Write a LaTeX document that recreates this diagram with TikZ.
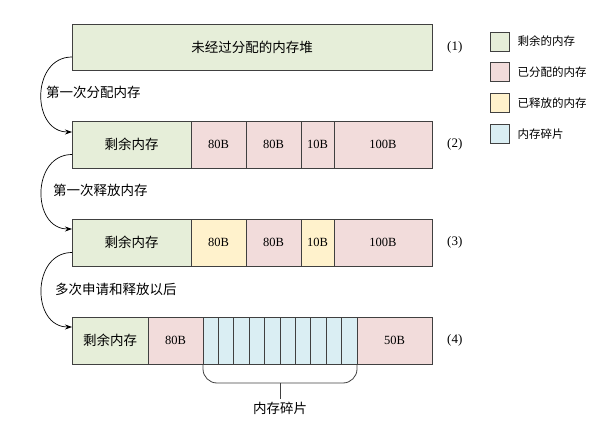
\documentclass[tikz,border=0pt]{standalone}
\usepackage{fontspec}
\setmainfont{Liberation Serif}
\newfontfamily\cjk{Noto Sans CJK SC}
\usetikzlibrary{positioning, arrows.meta, calc}
\definecolor{freegreen}{HTML}{E6EED9}
\definecolor{usedpink}{HTML}{F2DCDB}
\definecolor{relyellow}{HTML}{FFF2CC}
\definecolor{fragblue}{HTML}{DAEEF3}
\definecolor{edgegray}{HTML}{404040}
\tikzset{
    cell/.style={draw=edgegray, line width=0.8pt, rectangle, minimum height=47pt, inner sep=0pt, outer sep=0pt, font=\fontsize{12.5}{14}\selectfont},
    freecell/.style={cell, fill=freegreen, font=\cjk\fontsize{13.5}{15}\selectfont},
    usedcell/.style={cell, fill=usedpink},
    relcell/.style={cell, fill=relyellow},
    fragcell/.style={cell, fill=fragblue, minimum width=15.4pt},
    rowtag/.style={font=\fontsize{13}{15}\selectfont, inner sep=0pt},
    steplabel/.style={font=\cjk\fontsize{13.5}{15}\selectfont, anchor=west, inner sep=0pt},
    legbox/.style={draw=edgegray, line width=0.8pt, minimum size=19pt, inner sep=0pt},
    legtext/.style={font=\cjk\fontsize{11.5}{13}\selectfont, inner sep=0pt},
    steparrow/.style={-{Stealth[length=7pt, width=5pt]}, line width=0.7pt, looseness=1.4},
}
\begin{document}
\begin{tikzpicture}
    \useasboundingbox (0,0) rectangle (605pt,-430pt);
    % (1) heap before any allocation
    \node[freecell, minimum width=360pt, minimum height=46pt, anchor=north west] (r1) at (72pt,-24pt) {未经过分配的内存堆};
    \node[rowtag, right=15pt of r1] (t1) {(1)};

    % (2) after first allocation
    \node[freecell, minimum width=119pt, anchor=north west] (r2a) at (72pt,-121pt) {剩余内存};
    \node[usedcell, minimum width=55pt, right=0pt of r2a] (r2b) {80B};
    \node[usedcell, minimum width=55pt, right=0pt of r2b] (r2c) {80B};
    \node[usedcell, minimum width=33pt, right=0pt of r2c] (r2d) {10B};
    \node[usedcell, minimum width=98pt, right=0pt of r2d] (r2e) {100B};
    \node[rowtag, right=15pt of r2e] (t2) {(2)};

    % (3) after first release
    \node[freecell, minimum width=119pt, anchor=north west] (r3a) at (72pt,-219pt) {剩余内存};
    \node[relcell, minimum width=55pt, right=0pt of r3a] (r3b) {80B};
    \node[usedcell, minimum width=55pt, right=0pt of r3b] (r3c) {80B};
    \node[relcell, minimum width=33pt, right=0pt of r3c] (r3d) {10B};
    \node[usedcell, minimum width=98pt, right=0pt of r3d] (r3e) {100B};
    \node[rowtag, right=15pt of r3e] (t3) {(3)};

    % (4) fragmented heap
    \node[freecell, minimum width=76pt, anchor=north west] (r4a) at (72pt,-317pt) {剩余内存};
    \node[usedcell, minimum width=55pt, right=0pt of r4a] (r4b) {80B};
    \node[fragcell, right=0pt of r4b] (f1) {};
    \foreach \i [evaluate=\i as \p using int(\i-1)] in {2,...,10}
        \node[fragcell, right=0pt of f\p] (f\i) {};
    \node[usedcell, minimum width=75pt, right=0pt of f10] (r4c) {50B};
    \node[rowtag, right=15pt of r4c] (t4) {(4)};

    % brace under the fragments
    \coordinate (bmid) at ($(f1.south west)!0.5!(f10.south east)+(0,-19pt)$);
    \draw[edgegray, line width=0.8pt, rounded corners=14pt] (f1.south west) |- (bmid) -| (f10.south east);
    \node[legtext, font=\cjk\fontsize{13.5}{15}\selectfont, inner sep=3pt, below=16pt of bmid, anchor=north] (fraglabel) {内存碎片};
    \draw[edgegray, line width=0.8pt] (bmid) -- (fraglabel);

    % steps
    \node[steplabel] (lab1) at (46pt,-92pt) {第一次分配内存};
    \node[steplabel] (lab2) at (53pt,-190pt) {第一次释放内存};
    \node[steplabel] (lab3) at (55pt,-289pt) {多次申请和释放以后};
    \draw[steparrow] ([yshift=-10pt]r1.west) to[out=180, in=180] ([yshift=-11pt]r2a.north west);
    \draw[steparrow] ([yshift=-10pt]r2a.west) to[out=180, in=180] ([yshift=-10pt]r3a.north west);
    \draw[steparrow] ([yshift=-10pt]r3a.west) to[out=180, in=180] ([yshift=-10pt]r4a.north west);

    % legend
    \node[legbox, fill=freegreen] (lg1) at (499.5pt,-41.5pt) {};
    \node[legbox, fill=usedpink, below=11pt of lg1] (lg2) {};
    \node[legbox, fill=relyellow, below=11pt of lg2] (lg3) {};
    \node[legbox, fill=fragblue, below=11pt of lg3] (lg4) {};
    \node[legtext, right=8pt of lg1] (lt1) {剩余的内存};
    \node[legtext, right=8pt of lg2] (lt2) {已分配的内存};
    \node[legtext, right=8pt of lg3] (lt3) {已释放的内存};
    \node[legtext, right=8pt of lg4] (lt4) {内存碎片};
\end{tikzpicture}
\end{document}
